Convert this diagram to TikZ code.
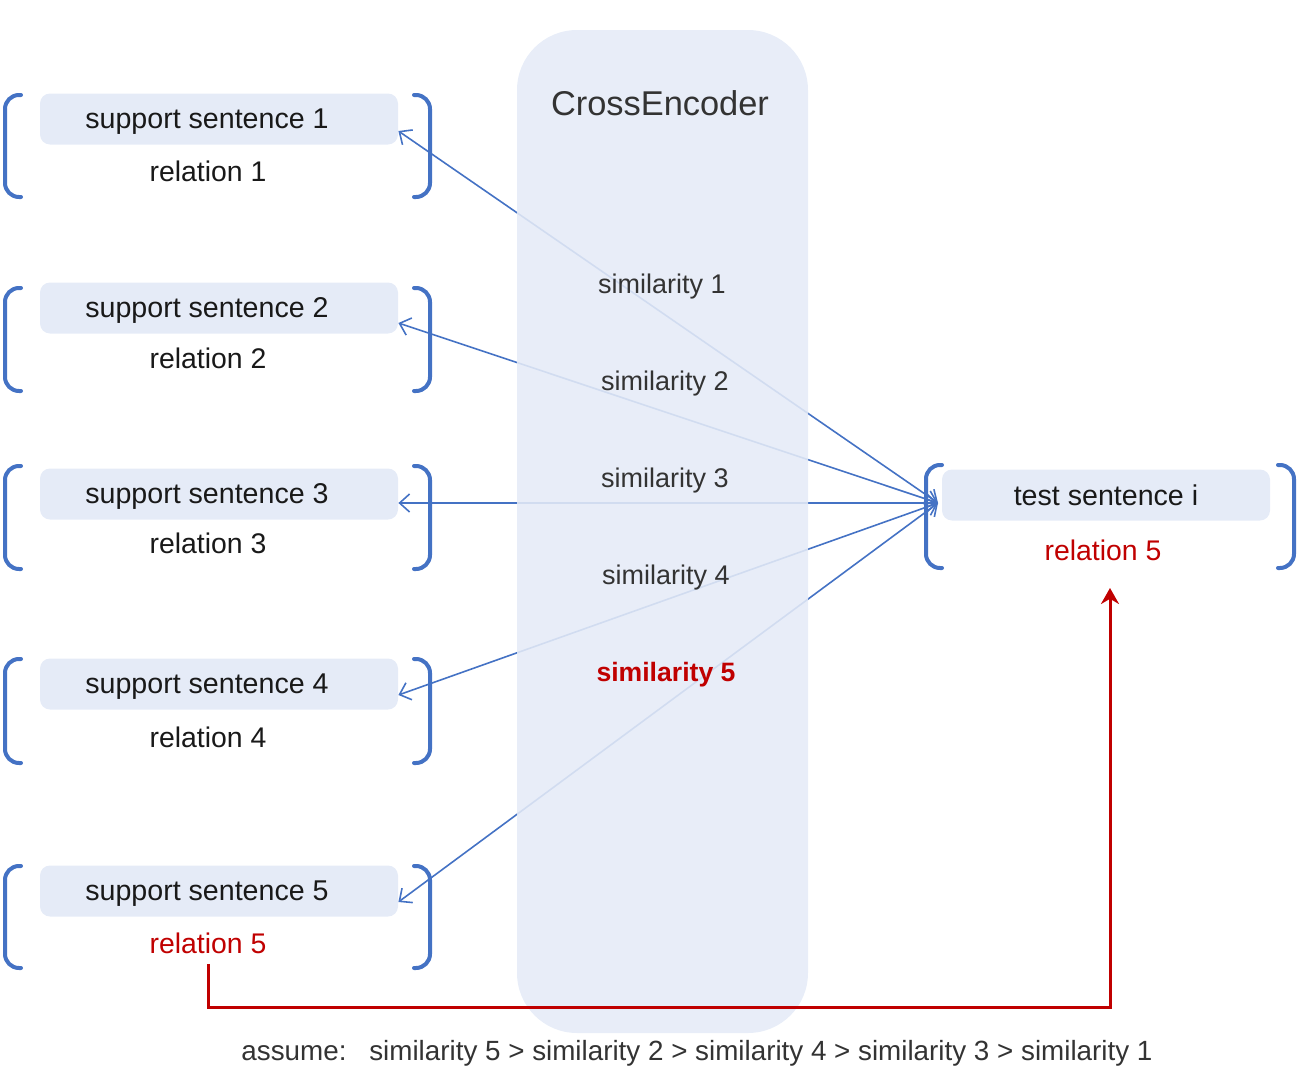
\documentclass[tikz,border=0pt]{standalone}
\usepackage{fontspec}
\setmainfont{Liberation Sans}
\usepackage{xcolor}
\usetikzlibrary{arrows.meta}

\definecolor{paleblue}{HTML}{E5EBF7}
\definecolor{lineblue}{HTML}{4472C4}
\definecolor{darkred}{HTML}{C00000}
\definecolor{inkgray}{HTML}{333333}

% a pair of round brackets around one group: left x, right x, top y, bottom y
\newcommand\groupbrackets[4]{%
	\draw[brace] ({#1+16},#3) -- (#1,#3) -- (#1,#4) -- ({#1+16},#4);
	\draw[brace] ({#2-16},#3) -- (#2,#3) -- (#2,#4) -- ({#2-16},#4);
}

\begin{document}
\begin{tikzpicture}[x=0.5pt, y=-0.5pt,
	sentence/.style = {fill=paleblue, rounded corners=5pt, minimum width=179pt,
		minimum height=25.5pt, inner sep=0pt, text depth=0pt,
		font=\fontsize{14.3}{16}\selectfont, text=black!90},
	support/.style = {sentence, execute at end node=\kern12pt},
	relation/.style = {inner sep=0pt, font=\fontsize{14.2}{16}\selectfont, text=black!90},
	simlabel/.style = {inner sep=0pt, font=\fontsize{13.5}{15}\selectfont, text=inkgray},
	link/.style = {draw=lineblue, line width=0.8pt,
		{Straight Barb[length=5pt,width=9pt]}-{Straight Barb[length=5pt,width=9pt]}},
	brace/.style = {draw=lineblue, line width=2pt, line cap=round, rounded corners=7pt},
	feedback/.style = {draw=darkred, line width=1.5pt, -{Stealth[length=8pt,width=9pt]}}
]
\useasboundingbox (0,0) rectangle (1298,1087);

% support sentences
\node[support] (s1) at (219,119) {support sentence 1};
\node[relation] (r1) at (208,171) {relation 1};
\node[support] (s2) at (219,308) {support sentence 2};
\node[relation] (r2) at (208,358) {relation 2};
\node[support] (s3) at (219,494) {support sentence 3};
\node[relation] (r3) at (208,543) {relation 3};
\node[support] (s4) at (219,684) {support sentence 4};
\node[relation] (r4) at (208,737) {relation 4};
\node[support] (s5) at (219,891) {support sentence 5};
\node[relation, text=darkred] (r5) at (208,943) {relation 5};

% test sentence
\node[sentence, minimum width=164pt] (t) at (1106,495) {test sentence i};
\node[relation, text=darkred] (rt) at (1103,550) {relation 5};

\groupbrackets{5}{430}{95}{197}
\groupbrackets{5}{430}{288}{391}
\groupbrackets{5}{430}{466}{569}
\groupbrackets{5}{430}{659}{763}
\groupbrackets{5}{430}{866}{968}
\groupbrackets{926}{1294}{465}{568}

\coordinate (hub) at (938,503);

% pairs
\draw[link] ([yshift=-6pt]s1.east) -- (hub);
\draw[link] ([yshift=-7.5pt]s2.east) -- (hub);
\draw[link] ([yshift=-4.5pt]s3.east) -- (hub);
\draw[link] ([yshift=-5.5pt]s4.east) -- (hub);
\draw[link] ([yshift=-5.5pt]s5.east) -- (hub);

% encoder
\node[fill=paleblue, fill opacity=0.88, rounded corners=30pt, minimum width=145.5pt,
	minimum height=501.5pt, inner sep=0pt] (enc) at (662.5,531.5) {};
\node[inner sep=0pt, font=\fontsize{17.2}{19}\selectfont, text=inkgray] (title) at (660,103) {CrossEncoder};

\node[simlabel] (sim1) at (662,287) {similarity 1};
\node[simlabel] (sim2) at (665,384) {similarity 2};
\node[simlabel] (sim3) at (665,481) {similarity 3};
\node[simlabel] (sim4) at (666,578) {similarity 4};
\node[simlabel, text=darkred, font=\fontsize{13.3}{15}\selectfont\bfseries] (sim5) at (666,675) {similarity 5};

% label passed back to the test sentence
\coordinate (turn) at (1110,1007);
\coordinate (tip) at (1110,588);
\draw[feedback] ([yshift=-5pt]r5.south) |- (turn) -- (tip);

\node[inner sep=0pt, font=\fontsize{13.9}{15}\selectfont, text=inkgray] (note) at (697,1053)
	{assume:\hspace{0.45em} similarity 5 > similarity 2 > similarity 4 > similarity 3 > similarity 1};
\end{tikzpicture}
\end{document}
